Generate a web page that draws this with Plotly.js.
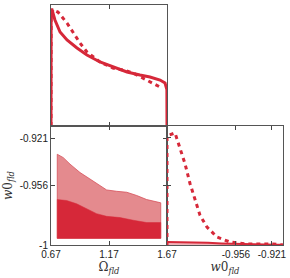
<!DOCTYPE html>
<html>
<head>
<meta charset="utf-8">
<script src="https://cdn.plot.ly/plotly-3.0.1.min.js"></script>
<style>html,body{margin:0;padding:0;background:#fff;}#plot{width:290px;height:278px;}</style>
</head>
<body>
<div id="plot"></div>
<script>
// ---- 1D posterior of Omega_fld (top-left) ----
const omegaSolid = [0.67, 0.671, 0.679, 0.704, 0.748, 0.808, 0.894, 0.980, 1.092, 1.204, 1.325, 1.437, 1.523, 1.610, 1.653, 1.669, 1.67];
const probSolid  = [0.0, 0.96, 0.96, 0.876, 0.777, 0.711, 0.645, 0.587, 0.529, 0.488, 0.446, 0.421, 0.405, 0.380, 0.355, 0.30, 0.0];
const omegaDash  = [0.67, 0.671, 0.687, 0.730, 0.808, 0.860, 0.920, 0.980, 1.092, 1.204, 1.291, 1.377, 1.463, 1.549, 1.610];
const probDash   = [0.0, 0.90, 0.96, 0.942, 0.851, 0.769, 0.686, 0.612, 0.529, 0.479, 0.463, 0.438, 0.397, 0.355, 0.322];

// ---- 2D contours Omega_fld vs w0_fld (bottom-left) ----
const omegaOuter = [0.724, 0.776, 0.834, 0.920, 1.006, 1.092, 1.150, 1.236, 1.323, 1.409, 1.495, 1.616];
const w0Outer    = [-0.9329, -0.9354, -0.9402, -0.9464, -0.9512, -0.9561, -0.9593, -0.9603, -0.9610, -0.9634, -0.9664, -0.9688];
const omegaInner = [0.724, 0.805, 0.891, 0.977, 1.063, 1.150, 1.265, 1.380, 1.495, 1.616];
const w0Inner    = [-0.9664, -0.9671, -0.9695, -0.9732, -0.9768, -0.9788, -0.9797, -0.9817, -0.9834, -0.9834];
const w0Floor    = -0.9951;

// ---- 1D posterior of w0_fld (bottom-right) ----
const w0Dash    = [-1.0, -1.0, -0.99414, -0.99048, -0.98681, -0.98315, -0.97949, -0.97582, -0.97070, -0.96337, -0.95385, -0.94139, -0.92234, -0.915];
const probW0Dash = [0.0, 0.917, 0.942, 0.817, 0.683, 0.517, 0.375, 0.250, 0.150, 0.067, 0.025, 0.008, 0.008, 0.0];
const w0Solid   = [-1.0, -0.99, -0.98, -0.97, -0.96, -0.95, -0.94, -0.93, -0.92, -0.915];
const probW0Solid = [0.025, 0.024, 0.022, 0.018, 0.013, 0.009, 0.006, 0.004, 0.002, 0.002];

// tick labels
const omegaTickVals = [0.67, 1.17, 1.67];
const omegaTickText = ['0.67', '1.17', '1.67'];
const w0TickValsY = [-1, -0.956, -0.921];
const w0TickTextY = ['-1', '-0.956', '-0.921'];
const w0TickValsX = [-1, -0.9495, -0.9231];
const w0TickTextX = ['', '-0.956', '-0.921'];

const RED = 'rgb(214,40,57)';
const RED_DARK = 'rgb(200,30,48)';
const PINK = 'rgb(228,138,142)';

// build closed polygons from the contour edges
function polygon(xs, ys, floor) {
  const px = xs.slice(), py = ys.slice();
  px.push(xs[xs.length - 1], xs[0], xs[0]);
  py.push(floor, floor, ys[0]);
  return {x: px, y: py};
}
const outerPoly = polygon(omegaOuter, w0Outer, w0Floor);
const innerPoly = polygon(omegaInner, w0Inner, w0Floor);

const traces = [
  {x: omegaSolid, y: probSolid, xaxis: 'x', yaxis: 'y', mode: 'lines',
   line: {color: RED, width: 3}, hoverinfo: 'skip'},
  {x: omegaDash, y: probDash, xaxis: 'x', yaxis: 'y', mode: 'lines',
   line: {color: RED, width: 3, dash: '4px,4px'}, hoverinfo: 'skip'},
  {x: outerPoly.x, y: outerPoly.y, xaxis: 'x2', yaxis: 'y2', mode: 'lines', fill: 'toself',
   fillcolor: PINK, line: {color: 'rgb(215,80,90)', width: 0.8}, hoverinfo: 'skip'},
  {x: innerPoly.x, y: innerPoly.y, xaxis: 'x2', yaxis: 'y2', mode: 'lines', fill: 'toself',
   fillcolor: RED, line: {color: RED, width: 0.5}, hoverinfo: 'skip'},
  {x: w0Solid, y: probW0Solid, xaxis: 'x3', yaxis: 'y3', mode: 'lines', fill: 'tozeroy',
   fillcolor: 'rgba(214,40,57,0.35)', line: {color: RED, width: 2}, hoverinfo: 'skip'},
  {x: w0Dash, y: probW0Dash, xaxis: 'x3', yaxis: 'y3', mode: 'lines',
   line: {color: RED, width: 3, dash: '4px,4px'}, hoverinfo: 'skip'}
];

const axisCommon = {
  showgrid: false, zeroline: false, showline: true, linecolor: '#555', linewidth: 1,
  ticks: 'inside', ticklen: 4, tickcolor: '#444', tickwidth: 1,
  tickfont: {family: 'Liberation Sans, Arial, sans-serif', size: 10, color: '#222'}
};
const titleFont = {family: 'DejaVu Serif, Liberation Serif, serif', size: 12, color: '#333'};

const L = 51/290, M = 167/290, R = 283/290;
const B = (278-245)/278, Mid = (278-126)/278, T = (278-5)/278;

const layout = {
  width: 290, height: 278,
  margin: {l: 0, r: 0, t: 0, b: 0},
  paper_bgcolor: '#fff', plot_bgcolor: '#fff',
  showlegend: false,
  xaxis: Object.assign({}, axisCommon, {domain: [L, M], anchor: 'y', range: [0.67, 1.67],
    tickvals: omegaTickVals, ticktext: omegaTickText, showticklabels: false, mirror: 'ticks'}),
  yaxis: Object.assign({}, axisCommon, {domain: [Mid, T], anchor: 'x', range: [0, 1],
    ticks: '', showticklabels: false, mirror: true}),
  xaxis2: Object.assign({}, axisCommon, {domain: [L, M], anchor: 'y2', range: [0.67, 1.67],
    tickvals: omegaTickVals, ticktext: omegaTickText, mirror: 'ticks',
    title: {text: 'Ω<sub><i>fld</i></sub>', font: titleFont, standoff: 2}}),
  yaxis2: Object.assign({}, axisCommon, {domain: [B, Mid], anchor: 'x2', range: [-1, -0.912],
    tickvals: w0TickValsY, ticktext: w0TickTextY, mirror: 'ticks',
    title: {text: '<i>w</i>0<sub><i>fld</i></sub>', font: titleFont, standoff: 4}}),
  xaxis3: Object.assign({}, axisCommon, {domain: [M, R], anchor: 'y3', range: [-1, -0.915],
    tickvals: w0TickValsX, ticktext: w0TickTextX, mirror: 'ticks',
    title: {text: '<i>w</i>0<sub><i>fld</i></sub>', font: titleFont, standoff: 2}}),
  yaxis3: Object.assign({}, axisCommon, {domain: [B, Mid], anchor: 'x3', range: [0, 1],
    tickvals: [0.5, 0.9], showticklabels: false, mirror: true})
};

Plotly.newPlot('plot', traces, layout, {staticPlot: true, displayModeBar: false});
</script>
</body>
</html>
